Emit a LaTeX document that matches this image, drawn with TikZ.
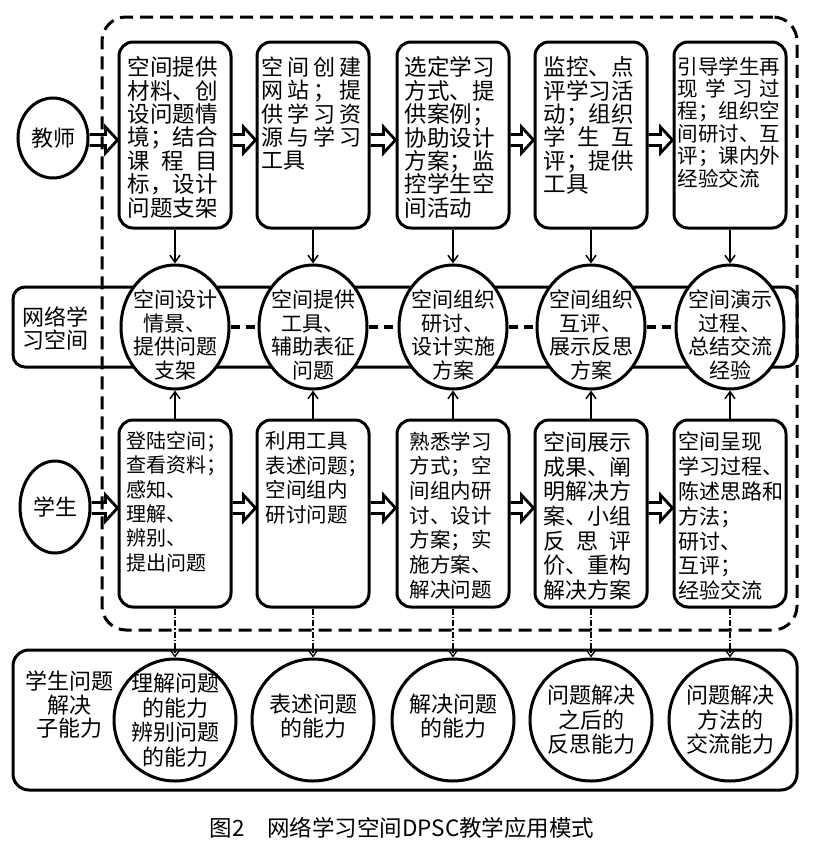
\documentclass[tikz,border=0pt]{standalone}
\usepackage{fontspec}
\setmainfont{Noto Sans CJK SC}
\usetikzlibrary{calc,arrows.meta,shapes.geometric}
\newcommand\fa{\fontsize{22.5}{23.4}\selectfont}
\newcommand\fb{\fontsize{20.5}{22.4}\selectfont}
\newcommand\blkar[3]{%
  \path (#1.east |- #3) coordinate (ba-s) (#2.west |- #3) coordinate (ba-e);
  \draw[blk] ($(ba-s)+(0,-5.5)$) -- ($(ba-e)+(-12,-5.5)$) -- ($(ba-e)+(-12,-13)$) -- (ba-e) -- ($(ba-e)+(-12,13)$) -- ($(ba-e)+(-12,5.5)$) -- ($(ba-s)+(0,5.5)$);}
\begin{document}
\begin{tikzpicture}[x=1pt,y=-1pt,
  box/.style={draw, line width=3pt, rounded corners=14pt, minimum width=112pt, minimum height=186pt, inner sep=0pt},
  txt/.style={anchor=north west, inner sep=0pt, align=left},
  ell/.style={draw, line width=3pt, ellipse, fill=white, inner sep=0pt},
  band/.style={draw, line width=3pt, rounded corners=12pt, inner sep=0pt},
  ctxt/.style={align=center, inner sep=0pt},
  blk/.style={line width=2.8pt, line join=miter},
  varr/.style={line width=1.5pt, -{Straight Barb[length=7pt,width=10pt,line width=1.5pt]}},
  darr/.style={line width=1.3pt, dash pattern=on 6pt off 2pt on 1.5pt off 2pt, -{Straight Barb[length=7pt,width=10pt,line width=1.3pt]}},
  mdash/.style={line width=3.2pt, dash pattern=on 9pt off 6pt},
]
\useasboundingbox (0,0) rectangle (813,846);
\fill[white] (0,0) rectangle (813,846);

% bands
\node[band, minimum width=784pt, minimum height=80pt] (L1) at (405,327) {};
\node[ctxt, font=\fontsize{22}{23}\selectfont] (L1t) at (56,328) {网络学\\习空间};
\node[band, minimum width=784pt, minimum height=140pt, rounded corners=16pt] (L2) at (405,720) {};
\node[ctxt, font=\fontsize{22}{23.5}\selectfont] (L2t) at (69,705) {学生问题\\解决\\子能力};

% dashed frame
\node[draw, line width=3pt, dash pattern=on 13pt off 7pt, rounded corners=24pt, minimum width=695pt, minimum height=613pt, inner sep=0pt] (F) at (449.5,323.5) {};

% actors
\node[ell, minimum width=70pt, minimum height=80pt] (T) at (53,138) {};
\node[ctxt, font=\fontsize{22}{24}\selectfont] (Tl) at (T) {教师};
\node[ell, minimum width=70pt, minimum height=92pt] (S) at (55,507) {};
\node[ctxt, font=\fontsize{22}{24}\selectfont] (Sl) at (S) {学生};

% top boxes
\node[box] (t1) at (175,135) {};
\node[txt, font=\fa] (tt1) at ($(t1.north west)+(10,16)$) {空间提供\\材料、创\\设问题情\\境；结合\\\makebox[4em][s]{课 程 目}\\标，设计\\问题支架};
\node[box] (t2) at (313,135) {};
\node[txt, font=\fontsize{22}{23.4}\selectfont] (tt2) at ($(t2.north west)+(6,16)$) {\makebox[100pt][s]{空 间 创 建}\\\makebox[100pt][s]{网 站 ； 提}\\\makebox[100pt][s]{供 学 习 资}\\\makebox[100pt][s]{源 与 学 习}\\工具};
\node[box] (t3) at (453,135) {};
\node[txt, font=\fa] (tt3) at ($(t3.north west)+(9,16)$) {选定学习\\方式、提\\供案例；\\协助设计\\方案；监\\控学生空\\间活动};
\node[box] (t4) at (591,135) {};
\node[txt, font=\fa] (tt4) at ($(t4.north west)+(10,16)$) {监控、点\\评学习活\\动；组织\\\makebox[4em][s]{学 生 互}\\评；提供\\工具};
\node[box] (t5) at (730,135) {};
\node[txt, font=\fb] (tt5) at ($(t5.north west)+(5,16)$) {引导学生再\\\makebox[5em][s]{现 学 习 过}\\程；组织空\\间研讨、互\\评；课内外\\经验交流};

% bottom boxes
\node[box, minimum height=187pt] (b1) at (175,513.5) {};
\node[txt, font=\fontsize{20}{24.3}\selectfont] (bt1) at ($(b1.north west)+(9,13)$) {登陆空间；\\查看资料；\\感知、\\理解、\\辨别、\\提出问题};
\node[box, minimum height=187pt] (b2) at (313,513.5) {};
\node[txt, font=\fontsize{20.5}{24.5}\selectfont] (bt2) at ($(b2.north west)+(10,13)$) {利用工具\\表述问题；\\空间组内\\研讨问题};
\node[box, minimum height=187pt] (b3) at (453,513.5) {};
\node[txt, font=\fontsize{20.5}{24.7}\selectfont] (bt3) at ($(b3.north west)+(14,13)$) {熟悉学习\\方式；空\\间组内研\\讨、设计\\方案；实\\施方案、\\解决问题};
\node[box, minimum height=187pt] (b4) at (591,513.5) {};
\node[txt, font=\fontsize{22}{24.7}\selectfont] (bt4) at ($(b4.north west)+(10,13)$) {空间展示\\成果、阐\\明解决方\\案、小组\\\makebox[4em][s]{反 思 评}\\价、重构\\解决方案};
\node[box, minimum height=187pt] (b5) at (730,513.5) {};
\node[txt, font=\fontsize{21}{24.9}\selectfont] (bt5) at ($(b5.north west)+(6,13)$) {空间呈现\\学习过程、\\陈述思路和\\方法；\\研讨、\\互评；\\经验交流};

% middle circles
\foreach \i/\x in {1/175,2/313,3/453,4/591,5/730}{
  \node[ell, minimum width=108pt, minimum height=124pt] (m\i) at (\x,327) {};
}
\node[ctxt, font=\fontsize{21}{23.5}\selectfont] (mt1) at ($(m1)+(0,8)$) {空间设计\\情景、\\提供问题\\支架};
\node[ctxt, font=\fontsize{21}{23.5}\selectfont] (mt2) at ($(m2)+(0,8)$) {空间提供\\工具、\\辅助表征\\问题};
\node[ctxt, font=\fontsize{21}{23.5}\selectfont] (mt3) at ($(m3)+(0,8)$) {空间组织\\研讨、\\设计实施\\方案};
\node[ctxt, font=\fontsize{21}{23.5}\selectfont] (mt4) at ($(m4)+(0,8)$) {空间组织\\互评、\\展示反思\\方案};
\node[ctxt, font=\fontsize{21}{23.5}\selectfont] (mt5) at ($(m5)+(0,8)$) {空间演示\\过程、\\总结交流\\经验};

% bottom circles
\foreach \i/\x in {1/175,2/313,3/453,4/591,5/730}{
  \node[ell, minimum width=122pt, minimum height=122pt] (c\i) at (\x,720) {};
}
\node[ctxt, font=\fontsize{22}{24.5}\selectfont] (ct1) at (c1) {理解问题\\的能力\\辨别问题\\的能力};
\node[ctxt, font=\fontsize{22}{24.5}\selectfont] (ct2) at ($(c2)+(0,-4)$) {表述问题\\的能力};
\node[ctxt, font=\fontsize{22}{24.5}\selectfont] (ct3) at ($(c3)+(0,-4)$) {解决问题\\的能力};
\node[ctxt, font=\fontsize{22}{24.5}\selectfont] (ct4) at (c4) {问题解决\\之后的\\反思能力};
\node[ctxt, font=\fontsize{22}{24.5}\selectfont] (ct5) at (c5) {问题解决\\方法的\\交流能力};

% horizontal block arrows
\coordinate (yT) at (0,140);
\coordinate (yS) at (0,508);
\blkar{T}{t1}{yT}
\blkar{t1}{t2}{yT}
\blkar{t2}{t3}{yT}
\blkar{t3}{t4}{yT}
\blkar{t4}{t5}{yT}
\blkar{S}{b1}{yS}
\blkar{b1}{b2}{yS}
\blkar{b2}{b3}{yS}
\blkar{b3}{b4}{yS}
\blkar{b4}{b5}{yS}

% vertical connectors
\foreach \i in {1,...,5}{
  \draw[varr] (t\i.south) -- (m\i.north);
  \draw[varr] (b\i.north) -- (m\i.south);
  \draw[darr] (b\i.south) -- (c\i.north);
}
% dashed links between middle circles
\foreach \i/\j in {1/2,2/3,3/4,4/5}{
  \draw[mdash] (m\i.east) -- (m\j.west);
}

% caption
\node[inner sep=0pt, font=\fontsize{22.5}{25}\selectfont] (cap) at (402,828) {图2　网络学习空间DPSC教学应用模式};
\end{tikzpicture}
\end{document}
